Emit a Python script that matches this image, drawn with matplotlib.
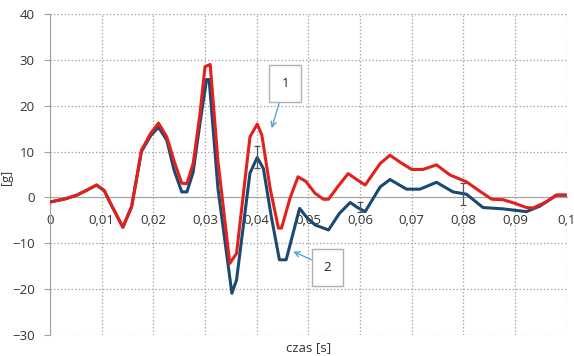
import numpy as np
import matplotlib
matplotlib.use("Agg")
import matplotlib.pyplot as plt
from matplotlib.ticker import FixedLocator, FixedFormatter

# krzywa 1 (czerwona) - czas [s], przyspieszenie [g]
t1 = [0.000, 0.003, 0.0052, 0.007, 0.009, 0.0105, 0.0118, 0.0141, 0.0158,
      0.0177, 0.0195, 0.021, 0.0226, 0.024, 0.0255, 0.0265, 0.0277, 0.029,
      0.0300, 0.0310, 0.0325, 0.0348, 0.0361, 0.0387, 0.0401, 0.0410, 0.0426,
      0.0442, 0.0448, 0.0465, 0.0480, 0.0495, 0.0513, 0.0529, 0.0539, 0.0558,
      0.0577, 0.0595, 0.061, 0.0639, 0.0658, 0.068, 0.070, 0.0722, 0.0748,
      0.0774, 0.0806, 0.083, 0.0855, 0.0877, 0.090, 0.0922, 0.0935, 0.096,
      0.098, 0.100]
g1 = [-1.0, -0.3, 0.5, 1.5, 2.7, 1.5, -1.5, -6.5, -2.0,
      10.3, 14.0, 16.2, 13.2, 8.0, 3.1, 3.0, 7.4, 18.0,
      28.5, 29.0, 8.0, -14.4, -12.2, 13.2, 16.0, 13.6, 2.0,
      -6.7, -6.7, 0.0, 4.5, 3.5, 0.9, -0.4, -0.4, 2.5,
      5.2, 3.8, 2.7, 7.4, 9.2, 7.5, 6.1, 6.1, 7.1,
      4.9, 3.4, 1.5, -0.4, -0.5, -1.3, -2.2, -2.3, -1.0,
      0.5, 0.5]

# krzywa 2 (granatowa)
t2 = [0.000, 0.003, 0.0052, 0.007, 0.009, 0.0105, 0.0118, 0.0141, 0.0158,
      0.0177, 0.0195, 0.021, 0.0226, 0.024, 0.0255, 0.0265, 0.0277, 0.029,
      0.0303, 0.0308, 0.0325, 0.0352, 0.0361, 0.0387, 0.0401, 0.0413, 0.0428,
      0.0444, 0.0457, 0.0483, 0.0498, 0.0513, 0.0539, 0.0560, 0.0581, 0.0595,
      0.061, 0.0639, 0.0658, 0.069, 0.0716, 0.0748, 0.078, 0.0806, 0.0838,
      0.0877, 0.0922, 0.0948, 0.098, 0.100]
g2 = [-1.0, -0.3, 0.5, 1.5, 2.7, 1.5, -1.5, -6.5, -2.0,
      10.0, 13.5, 15.3, 12.5, 6.0, 1.2, 1.2, 5.5, 16.0,
      25.7, 25.7, 2.0, -20.9, -18.0, 5.3, 8.7, 6.3, -4.0,
      -13.6, -13.6, -2.4, -4.5, -6.0, -7.1, -3.5, -1.1, -2.2,
      -3.1, 2.3, 3.9, 1.8, 1.8, 3.3, 1.2, 0.7, -2.2,
      -2.5, -3.1, -1.9, 0.5, 0.5]

# slupki bledow na krzywej 2
err_t = [0.040, 0.060, 0.080]
err_g = [8.9, -2.0, 0.7]
err_d = [2.4, 1.1, 2.4]

x_ticks = [0.0, 0.01, 0.02, 0.03, 0.04, 0.05, 0.06, 0.07, 0.08, 0.09, 0.1]
x_labels = ["0", "0,01", "0,02", "0,03", "0,04", "0,05", "0,06", "0,07",
            "0,08", "0,09", "0,1"]
y_ticks = [-30, -20, -10, 0, 10, 20, 30, 40]

RED = "#e3211c"
BLUE = "#1a4a72"
GRID = "#a9a9a9"
TEXT = "#333333"

plt.rcParams["font.family"] = ["Open Sans", "DejaVu Sans"]

fig = plt.figure(figsize=(5.74, 3.56), dpi=100)
ax = fig.add_axes([0.0871, 0.059, 0.9002, 0.9017])

ax.plot(t2, g2, color=BLUE, lw=2.2, solid_joinstyle="round",
        solid_capstyle="round", zorder=3)
ax.plot(t1, g1, color=RED, lw=2.2, solid_joinstyle="round",
        solid_capstyle="round", zorder=4)
ax.errorbar(err_t, err_g, yerr=err_d, fmt="none", ecolor="#555555",
            elinewidth=0.9, capsize=2.5, capthick=0.9, zorder=5)

ax.set_xlim(0, 0.1)
ax.set_ylim(-30, 40)

# siatka kropkowana, os X przechodzi przez zero
ax.xaxis.set_major_locator(FixedLocator(x_ticks))
ax.xaxis.set_major_formatter(FixedFormatter(x_labels))
ax.set_yticks(y_ticks)
ax.grid(True, color=GRID, linestyle=(0, (1.2, 1.6)), linewidth=0.9, zorder=0)

for s in ["top", "right"]:
    ax.spines[s].set_visible(False)
ax.spines["bottom"].set_position(("data", 0))
ax.spines["bottom"].set_color("#a0a0a0")
ax.spines["left"].set_color("#a0a0a0")
ax.spines["bottom"].set_zorder(1)

ax.tick_params(axis="x", length=0, pad=12, labelsize=9.5, labelcolor=TEXT)
ax.tick_params(axis="y", length=4, width=0.8, color="#a0a0a0", pad=7,
               labelsize=9.5, labelcolor=TEXT)

ax.set_ylabel("[g]", fontsize=9, color=TEXT)
ax.yaxis.set_label_coords(-0.072, 0.49)
fig.text(0.537, 0.025, "czas [s]", ha="center", va="center", fontsize=9.5,
         color=TEXT)

# opisy krzywych
box = dict(boxstyle="square,pad=0.9", fc="white", ec="#b0b0b0", lw=1.0)
arrow = dict(arrowstyle="->", color="#4a9bd6", lw=0.9, shrinkA=0, shrinkB=0)
ax.annotate("1", xy=(0.0429, 15.1), xytext=(0.0455, 24.9), ha="center",
            va="center", fontsize=9.5, color="#202020", bbox=box,
            arrowprops=arrow, zorder=6)
ax.annotate("2", xy=(0.0471, -11.8), xytext=(0.0537, -15.2), ha="center",
            va="center", fontsize=9.5, color="#202020", bbox=box,
            arrowprops=arrow, zorder=6)

fig.savefig("out.png", dpi=100)
